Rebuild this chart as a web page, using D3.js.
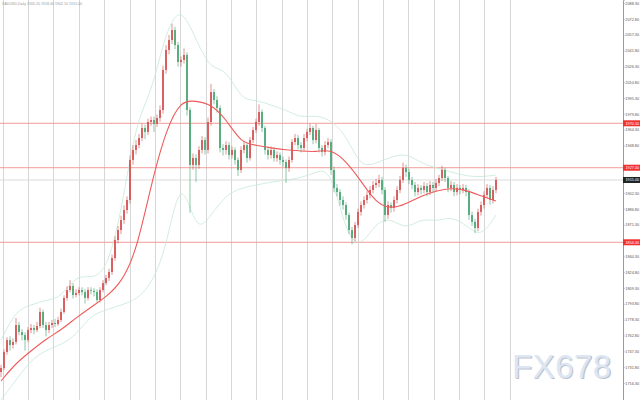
<!DOCTYPE html>
<html><head><meta charset="utf-8">
<script src="https://cdn.jsdelivr.net/npm/d3@7/dist/d3.min.js"></script>
<style>html,body{margin:0;padding:0;background:#fff;overflow:hidden}</style>
</head><body><svg id="c" width="640" height="400"></svg>
<script>
// ---- data ----
const firstOpen = 1727.0;
const closes = [1730.9,1746.6,1758.3,1753.4,1756.4,1773.0,1766.2,1763.2,1758.3,1768.1,
1770.1,1768.1,1772.0,1785.8,1773.0,1768.1,1773.0,1775.0,1774.0,1777.9,
1785.8,1799.5,1807.3,1811.2,1802.4,1804.4,1807.3,1805.3,1799.5,1807.3,
1806.5,1805.3,1797.5,1807.3,1814.1,1819.0,1824.9,1838.6,1856.2,1866.0,
1875.8,1885.6,1895.4,1934.6,1944.4,1949.2,1956.1,1965.9,1962.0,1971.8,
1973.7,1969.8,1975.7,1983.5,2022.7,2042.3,2052.0,2061.8,2047.1,2030.5,
2032.5,2037.4,1983.5,1929.7,1936.5,1929.7,1944.4,1954.1,1944.4,1971.8,
2001.1,1993.3,1985.5,1946.3,1944.4,1949.2,1939.5,1944.4,1934.6,1924.8,
1944.4,1949.2,1936.5,1954.1,1963.9,1971.8,1981.6,1965.9,1944.4,1939.5,
1944.4,1936.5,1939.5,1934.6,1932.6,1926.7,1934.6,1952.2,1956.1,1949.2,
1946.3,1956.1,1962.0,1965.9,1954.1,1963.9,1946.3,1942.4,1949.2,1952.2,
1924.8,1907.2,1903.2,1895.4,1890.5,1880.7,1866.0,1858.2,1870.9,1883.7,
1890.5,1895.4,1900.3,1905.2,1910.1,1912.0,1915.0,1905.2,1880.7,1890.5,
1887.6,1895.4,1905.2,1915.0,1926.7,1922.8,1915.0,1910.1,1903.2,1907.2,
1905.2,1909.1,1903.2,1910.1,1907.2,1912.0,1916.9,1924.8,1916.9,1907.2,
1910.1,1903.2,1907.2,1905.2,1907.2,1903.2,1880.7,1873.9,1868.0,1883.7,
1890.5,1900.3,1907.2,1895.4,1905.2,1915.0];
const highs = [1734,1749,1761,1762,1760,1780,1776,1769,1766,1771,
1774,1773,1776,1790,1788,1776,1776,1778,1779,1781,
1789,1802,1811,1817,1814,1808,1810,1810,1808,1810,
1810,1809,1808,1810,1817,1822,1828,1842,1860,1870,
1880,1890,1899,1939,1949,1954,1960,1970,1969,1975,
1977,1977,1979,1988,2027,2047,2057,2068,2065,2050,
2036,2044,2040,1986,1941,1940,1948,1958,1957,1976,
2009,2004,1997,1988,1950,1953,1952,1948,1947,1937,
1948,1953,1952,1957,1967,1975,1989,1984,1968,1948,
1948,1947,1943,1942,1938,1935,1938,1955,1960,1959,
1952,1960,1965,1970,1968,1970,1966,1949,1953,1956,
1955,1928,1911,1906,1899,1893,1883,1869,1874,1887,
1894,1899,1904,1909,1914,1916,1920,1918,1908,1894,
1893,1899,1909,1919,1932,1930,1926,1918,1913,1911,
1910,1913,1912,1914,1913,1916,1920,1929,1927,1919,
1914,1913,1911,1910,1911,1910,1906,1884,1877,1887,
1894,1904,1911,1910,1909,1918];
const lows = [1722,1729,1744,1748,1750,1754,1763,1758,1748,1756,
1765,1764,1766,1770,1770,1762,1765,1770,1771,1772,
1776,1784,1797,1805,1799,1800,1802,1802,1794,1797,
1803,1801,1795,1795,1805,1812,1816,1822,1836,1853,
1862,1872,1882,1892,1930,1940,1946,1953,1955,1959,
1968,1962,1967,1972,1980,2019,2038,2048,2043,2026,
2026,2029,1978,1883,1925,1913,1926,1941,1940,1941,
1968,1989,1981,1942,1939,1940,1935,1936,1930,1919,
1922,1941,1932,1934,1951,1961,1968,1962,1940,1935,
1936,1933,1933,1930,1928,1912,1923,1932,1949,1945,
1942,1943,1953,1959,1950,1951,1942,1938,1939,1946,
1920,1903,1899,1890,1886,1876,1862,1852,1855,1868,
1880,1887,1892,1897,1902,1907,1908,1901,1874,1877,
1883,1884,1892,1902,1912,1918,1911,1906,1899,1900,
1901,1902,1899,1900,1903,1904,1909,1914,1913,1903,
1904,1899,1900,1901,1902,1899,1876,1870,1863,1865,
1880,1887,1897,1891,1892,1902];
// indicator samples (every 5th bar)
const indIdx = [0,5,10,15,20,25,30,35,40,45,50,55,60,65,70,75,80,85,90,95,100,105,110,115,120,125,130,135,140,145,150,155,160,165];
const maVals = [1718.2,1735.8,1747.6,1759.3,1768.1,1779.9,1790.6,1800.4,1814.1,1843.5,1910.1,1964.3,1993.3,1992.3,1989.4,1974.7,1951.2,1949.2,1946.3,1944.4,1943.4,1942.4,1945.3,1933.6,1914.0,1892.5,1886.6,1891.5,1899.3,1904.2,1907.2,1905.2,1899.3,1894.4];
const bandUpper = [1758.3,1787.7,1792.6,1797.5,1799.5,1822.0,1819.0,1824.9,1880.7,1973.7,1998.2,2061.8,2086.3,2052.0,2022.7,2024.6,1993.3,1993.3,1988.4,1983.5,1975.7,1978.6,1973.7,1959.0,1926.7,1931.6,1937.5,1941.4,1931.6,1926.7,1922.8,1918.9,1917.9,1919.9];
const bandLower = [1699.6,1719.2,1738.8,1748.6,1753.4,1763.2,1782.8,1787.7,1792.6,1797.5,1812.2,1846.4,1924.8,1861.1,1880.7,1900.3,1907.2,1910.1,1913.0,1915.0,1916.9,1922.8,1926.7,1861.1,1848.4,1873.9,1877.8,1866.0,1877.8,1873.9,1879.7,1870.9,1858.2,1880.7];
const gridAt = [0.67,9,17.33,26,34.33,43,51.33,59.67,68.33,76.67,85,93.67,102,110.33,119,127.33,135.67,144.33,152.67,161,169.67];
const levels = [1970.5,1927.0,1854.0];
const lastPrice = 1915.0;
const tickVals = [1716.3,1731.8,1747.3,1762.8,1778.3,1793.8,1809.3,1824.8,1840.3,1871.3,1886.8,1902.3,1948.8,1964.3,1979.8,1995.3,2010.8,2026.3,2041.8,2057.3,2072.8,2088.3];
const titleText = "XAUUSD,Daily  1905.20 1918.40 1902.10 1915.00";

// ---- drawing ----
const svg = d3.select('#c');
svg.append('rect').attr('width',640).attr('height',400).attr('fill','#fff');
const x = d3.scaleLinear().domain([0,207.33]).range([1,623]);
const y = d3.scaleLinear().domain([1699.6,2091.2]).range([400,0]);
const FONT = 'Liberation Sans, Arial, sans-serif';

// vertical grid
svg.append('g').selectAll('line').data(gridAt).join('line')
  .attr('x1',d=>Math.round(x(d))+0.5).attr('x2',d=>Math.round(x(d))+0.5)
  .attr('y1',0).attr('y2',400)
  .attr('stroke','#d6d6d6').attr('stroke-width',1);

// title
svg.append('text').attr('x',2).attr('y',4.5).text(titleText)
  .attr('font-family',FONT).attr('font-size',3.6).attr('fill','#9a9a9a');

// horizontal levels
svg.append('g').selectAll('line').data(levels).join('line')
  .attr('x1',0).attr('x2',623).attr('y1',d=>y(d)).attr('y2',d=>y(d))
  .attr('stroke','#f29a9a').attr('stroke-width',1);
svg.append('line').attr('x1',0).attr('x2',623).attr('y1',y(lastPrice)).attr('y2',y(lastPrice))
  .attr('stroke','#dadada').attr('stroke-width',1);

// bands
const ind = (arr)=>d3.line().x((d,i)=>x(indIdx[i])).y(d=>y(d)).curve(d3.curveBasis)(arr);
svg.append('path').attr('d',ind(bandUpper)).attr('fill','none').attr('stroke','#c6e8d8').attr('stroke-width',0.8);
svg.append('path').attr('d',ind(bandLower)).attr('fill','none').attr('stroke','#c6e8d8').attr('stroke-width',0.8);

// candles
const bars = closes.map((c,i)=>({i, o: i===0?firstOpen:closes[i-1], c, h: highs[i], l: lows[i]}));
const up = '#d65656', dn = '#4ea877';
const cg = svg.append('g');
cg.selectAll('line').data(bars).join('line')
  .attr('x1',d=>x(d.i)).attr('x2',d=>x(d.i))
  .attr('y1',d=>y(d.h)).attr('y2',d=>y(d.l))
  .attr('stroke',d=>d.c>=d.o?up:dn).attr('stroke-width',0.8).attr('opacity',0.8);
cg.selectAll('rect').data(bars).join('rect')
  .attr('x',d=>x(d.i)-0.9).attr('width',1.8)
  .attr('y',d=>y(Math.max(d.o,d.c)))
  .attr('height',d=>Math.max(0.8,Math.abs(y(d.o)-y(d.c))))
  .attr('fill',d=>d.c>=d.o?up:dn);

// MA
svg.append('path').attr('d',ind(maVals)).attr('fill','none').attr('stroke','#f05a5a').attr('stroke-width',1.1);

// right axis
const ax = svg.append('g').attr('transform','translate(623,0)')
  .call(d3.axisRight(y).tickValues(tickVals).tickSize(1.5).tickPadding(0.8).tickFormat(d3.format('.2f')));
ax.select('.domain').attr('stroke','#9a9a9a');
ax.selectAll('.tick line').attr('stroke','#9a9a9a');
ax.selectAll('text').attr('font-size',3.8).attr('fill','#555').attr('font-family',FONT);

// price labels
const tags = levels.map(v=>({v,col:'#f23030'})).concat([{v:lastPrice,col:'#222'}]);
const tg = svg.append('g').selectAll('g').data(tags).join('g')
  .attr('transform',d=>`translate(623,${y(d.v)})`);
tg.append('rect').attr('x',0).attr('y',-3).attr('width',17).attr('height',6).attr('fill',d=>d.col);
tg.append('text').attr('x',2.5).attr('y',1.4).text(d=>d3.format('.2f')(d.v))
  .attr('font-size',3.8).attr('fill','#fff').attr('font-family',FONT);

// watermark
const wm = svg.append('g').attr('font-family',FONT).attr('font-size',33);
wm.append('text').attr('x',513.2).attr('y',379.2).text('FX678').attr('fill','#bcc4ce').attr('letter-spacing',0.5);
wm.append('text').attr('x',512).attr('y',378).text('FX678').attr('fill','#dde6f2').attr('letter-spacing',0.5);
</script></body></html>
